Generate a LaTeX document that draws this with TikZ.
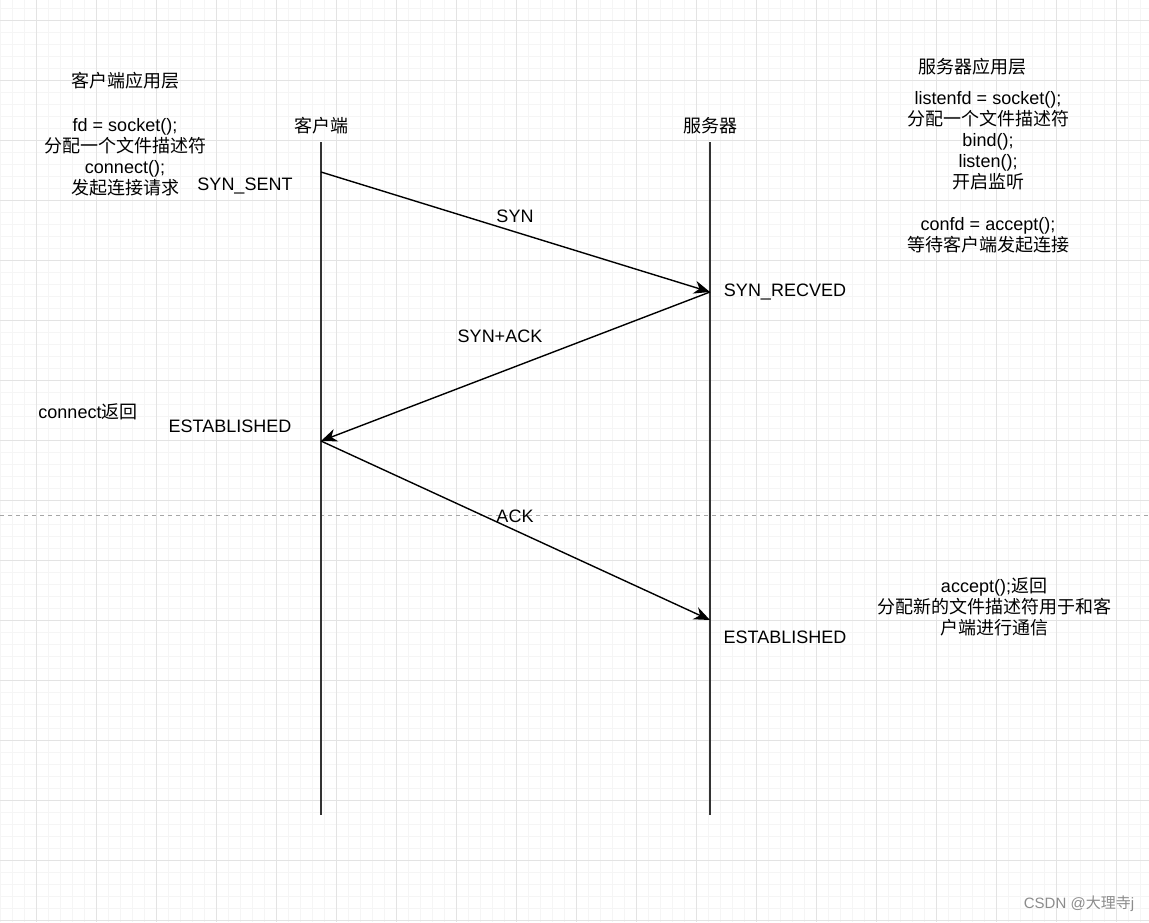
\documentclass[tikz,border=0pt]{standalone}
\usepackage{fontspec}
\setmainfont{Liberation Sans}
\newfontfamily\cjkfont{Noto Sans CJK SC}
\newcommand{\zhtxt}[1]{{\cjkfont #1}}
\usetikzlibrary{arrows.meta}
\begin{document}
\begin{tikzpicture}[x=1pt,y=-1pt,
  minorgrid/.style={draw=black!4,line width=0.7pt},
  majorgrid/.style={draw=black!11,line width=0.8pt},
  lifeline/.style={draw=black!80,line width=1.6pt},
  msg/.style={draw=black,line width=1.4pt,-{Stealth[length=16pt,width=13pt,inset=5pt]}},
  lbl/.style={inner sep=0pt,align=center,font=\fontsize{18}{21}\selectfont}]
\useasboundingbox (0,0) rectangle (1149,922);
\fill[white] (0,0) rectangle (1149,922);
% grid
\foreach \x in {0,12,...,1148} \draw[minorgrid] (\x,0) -- (\x,922);
\foreach \y in {8,20,...,920} \draw[minorgrid] (0,\y) -- (1149,\y);
\foreach \x in {36,96,...,1148} \draw[majorgrid] (\x,0) -- (\x,922);
\foreach \y in {20,80,...,920} \draw[majorgrid] (0,\y) -- (1149,\y);
% dashed separator
\coordinate (dl) at (0,515);
\coordinate (dr) at (1149,515);
\draw[black!35,line width=1pt,dash pattern=on 4pt off 4pt] (dl) -- (dr);
% lifelines
\node[lbl] (client) at (321,126) {\zhtxt{客户端}};
\node[lbl] (server) at (710,126) {\zhtxt{服务器}};
\coordinate (ctop) at (321,142);
\coordinate (cbot) at (321,815);
\coordinate (stop) at (710,142);
\coordinate (sbot) at (710,815);
\draw[lifeline] (ctop) -- (cbot);
\draw[lifeline] (stop) -- (sbot);
% message points
\coordinate (c1) at (321,172);
\coordinate (s1) at (710,292);
\coordinate (c2) at (321,441);
\coordinate (s2) at (710,620);
\draw[msg] (c1) -- (s1);
\draw[msg] (s1) -- (c2);
\draw[msg] (c2) -- (s2);
\node[lbl] (syn) at (515,216) {SYN};
\node[lbl] (synack) at (500,336) {SYN+ACK};
\node[lbl] (ack) at (515,516) {ACK};
% states
\node[lbl] (synsent) at (245,186) {SYN\_SENT};
\node[lbl] (synrecv) at (785,292) {SYN\_RECVED};
\node[lbl] (estc) at (230,426) {ESTABLISHED};
\node[lbl] (ests) at (785,637) {ESTABLISHED};
% client app layer
\node[lbl] (capp) at (125,81) {\zhtxt{客户端应用层}};
\node[lbl] (cdesc) at (125,157) {fd = socket();\\ \zhtxt{分配一个文件描述符}\\ connect();\\ \zhtxt{发起连接请求}};
\node[lbl] (cret) at (88,412) {connect\zhtxt{返回}};
% server app layer
\node[lbl] (sapp) at (972,67) {\zhtxt{服务器应用层}};
\node[lbl] (sdesc) at (988,172) {listenfd = socket();\\ \zhtxt{分配一个文件描述符}\\ bind();\\ listen();\\ \zhtxt{开启监听}\\[21pt] confd = accept();\\ \zhtxt{等待客户端发起连接}};
\node[lbl] (sret) at (994,607) {accept();\zhtxt{返回}\\ \zhtxt{分配新的文件描述符用于和客}\\ \zhtxt{户端进行通信}};
% watermark
\node[inner sep=0pt,text=black!45,font=\fontsize{15}{18}\selectfont] (wm) at (1079,904) {CSDN @\zhtxt{大理寺}j};
\end{tikzpicture}
\end{document}
